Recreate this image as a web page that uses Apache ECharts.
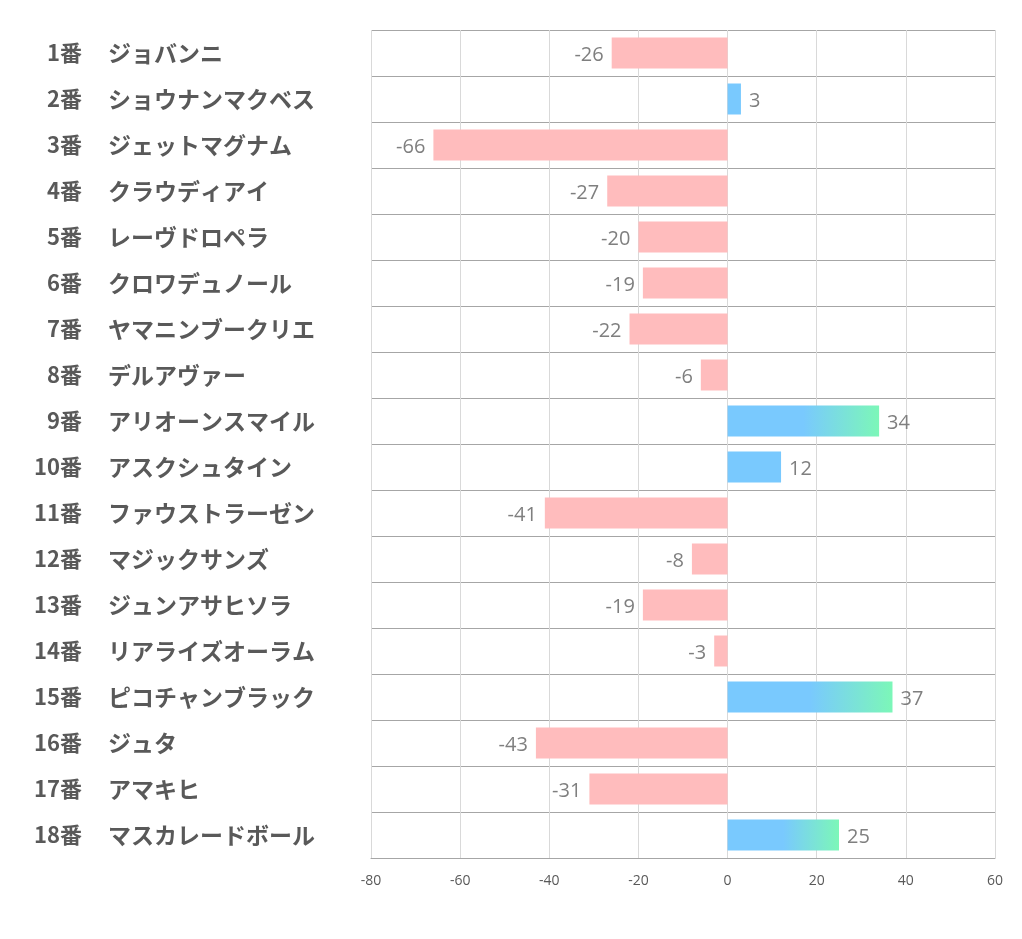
<!DOCTYPE html>
<html>
<head>
<meta charset="utf-8">
<script src="https://cdn.jsdelivr.net/npm/echarts@6/dist/echarts.min.js"></script>
<style>html,body{margin:0;padding:0;background:#fff;}#c{width:1022px;height:939px;}</style>
</head>
<body>
<div id="c"></div>
<script>
const numbers = ["1番","2番","3番","4番","5番","6番","7番","8番","9番","10番","11番","12番","13番","14番","15番","16番","17番","18番"];
const names = ["ジョバンニ","ショウナンマクベス","ジェットマグナム","クラウディアイ","レーヴドロペラ","クロワデュノール","ヤマニンブークリエ","デルアヴァー","アリオーンスマイル","アスクシュタイン","ファウストラーゼン","マジックサンズ","ジュンアサヒソラ","リアライズオーラム","ピコチャンブラック","ジュタ","アマキヒ","マスカレードボール"];
const values = [-26, 3, -66, -27, -20, -19, -22, -6, 34, 12, -41, -8, -19, -3, 37, -43, -31, 25];
const xTicks = [-80, -60, -40, -20, 0, 20, 40, 60];

const chart = echarts.init(document.getElementById('c'));
const grad = new echarts.graphic.LinearGradient(0, 0, 1, 0, [
  {offset: 0, color: '#79C9FE'},
  {offset: 0.5, color: '#79C9FE'},
  {offset: 1, color: '#7CF7B8'}
]);
const data = values.map(v => ({
  value: v,
  itemStyle: {color: v < 0 ? '#FFBCBD' : (v > 20 ? grad : '#79C9FE')},
  label: {position: v < 0 ? 'left' : 'right'}
}));
const labelFont = {fontWeight: 'bold', color: '#595959', fontFamily: 'Noto Sans CJK JP'};
chart.setOption({
  animation: false,
  grid: {left: 371, right: 27, top: 30, bottom: 81, containLabel: false},
  xAxis: {
    type: 'value', min: xTicks[0], max: xTicks[xTicks.length - 1], interval: 20,
    axisLine: {show: true, lineStyle: {color: '#a6a6a6', width: 1}},
    axisTick: {show: false},
    axisLabel: {color: '#595959', fontSize: 14, margin: 16, fontFamily: 'Open Sans'},
    splitLine: {show: true, lineStyle: {color: '#d9d9d9', width: 1}}
  },
  yAxis: [{
    type: 'category', inverse: true, data: numbers, position: 'left',
    axisLine: {show: false}, axisTick: {show: false},
    splitLine: {show: true, lineStyle: {color: '#a6a6a6', width: 1}},
    axisLabel: Object.assign({align: 'right', margin: 289, interval: 0, fontSize: 22}, labelFont)
  }, {
    type: 'category', inverse: true, data: names, position: 'left', offset: 0,
    axisLine: {show: false}, axisTick: {show: false}, splitLine: {show: false},
    axisLabel: Object.assign({align: 'left', margin: 263, interval: 0, fontSize: 23}, labelFont)
  }],
  series: [{
    type: 'bar', data: data, barWidth: 31, yAxisIndex: 0,
    label: {show: true, distance: 8, offset: [0, 2], color: '#7f7f7f', fontSize: 20, fontFamily: 'Open Sans'}
  }]
});
</script>
</body>
</html>
